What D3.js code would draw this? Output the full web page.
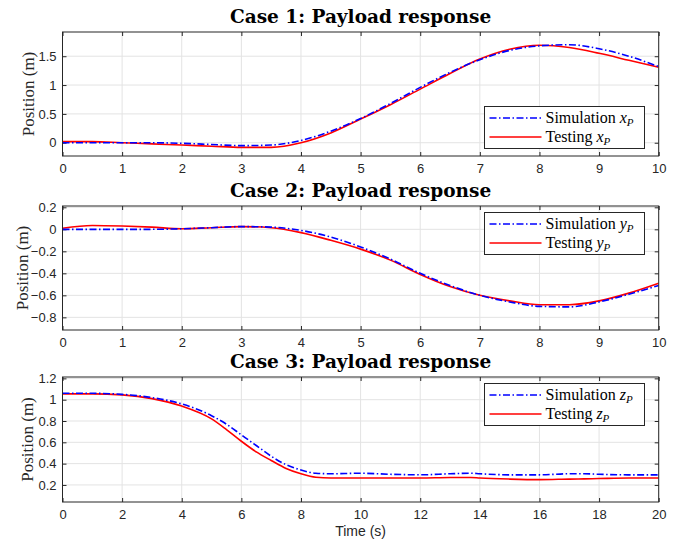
<!DOCTYPE html>
<html><head><meta charset="utf-8">
<script src="https://cdn.jsdelivr.net/npm/d3@7"></script>
<style>body{margin:0;background:#fff}svg{display:block}</style>
</head><body>
<script>
// ---- data ----
const titles = ["Case 1: Payload response", "Case 2: Payload response", "Case 3: Payload response"];
const axisVars = ["x", "y", "z"];
const t1 = [0,0.5,1,1.5,2,2.5,3,3.5,4,4.5,5,5.5,6,6.5,7,7.5,8,8.5,9,9.5,10];
const simX = [0,0,0,0,-0.01,-0.03,-0.05,-0.04,0.04,0.2,0.42,0.68,0.96,1.22,1.44,1.6,1.68,1.7,1.63,1.5,1.32];
const testX = [0.02,0.02,0,-0.02,-0.04,-0.06,-0.08,-0.08,0.0,0.17,0.41,0.66,0.93,1.2,1.45,1.62,1.69,1.65,1.55,1.43,1.31];
const simY = [0,0,0,0,0.005,0.015,0.025,0.02,-0.01,-0.07,-0.16,-0.27,-0.4,-0.51,-0.6,-0.66,-0.7,-0.705,-0.66,-0.59,-0.51];
const testY = [0.01,0.035,0.03,0.02,0.005,0.015,0.025,0.015,-0.03,-0.1,-0.18,-0.28,-0.41,-0.52,-0.6,-0.65,-0.685,-0.685,-0.65,-0.58,-0.49];
const t3 = [0,1,2,3,4,5,5.5,6,6.5,7,7.5,8,8.5,9,10,11,12,13,13.7,14,15,16,17,17.5,18,19,20];
const simZ = [1.06,1.06,1.05,1.02,0.96,0.85,0.77,0.67,0.57,0.47,0.39,0.34,0.31,0.305,0.31,0.3,0.295,0.305,0.31,0.305,0.295,0.295,0.305,0.305,0.3,0.295,0.295];
const testZ = [1.055,1.055,1.045,1.01,0.94,0.82,0.72,0.61,0.51,0.43,0.355,0.305,0.272,0.265,0.265,0.265,0.265,0.27,0.27,0.265,0.255,0.25,0.255,0.257,0.26,0.265,0.265];
const xTicks1 = [0,1,2,3,4,5,6,7,8,9,10];
const xTicks3 = [0,2,4,6,8,10,12,14,16,18,20];
const yTicks1 = [0,0.5,1,1.5];
const yTicks2 = [0.2,0,-0.2,-0.4,-0.6,-0.8];
const yTicks3 = [0.2,0.4,0.6,0.8,1,1.2];

const panels = [
  {t:t1, sim:simX, test:testX, xd:[0,10], yd:[-0.23,1.92], xt:xTicks1, yt:yTicks1, top:32, bot:156, lab:28},
  {t:t1, sim:simY, test:testY, xd:[0,10], yd:[-0.915,0.212], xt:xTicks1, yt:yTicks2, top:206, bot:330, lab:22},
  {t:t3, sim:simZ, test:testZ, xd:[0,20], yd:[0.04,1.213], xt:xTicks3, yt:yTicks3, top:377, bot:502, lab:27}
];

const W = 683, H = 541, L = 62.5, R = 658.7;
const svg = d3.select("body").append("svg").attr("width", W).attr("height", H);
const ink = "#262626";

panels.forEach((p, i) => {
  const x = d3.scaleLinear().domain(p.xd).range([L, R]);
  const y = d3.scaleLinear().domain(p.yd).range([p.bot, p.top]);
  const g = svg.append("g");
  // grid
  g.selectAll(".gx").data(p.xt).join("line")
    .attr("x1", d => x(d)).attr("x2", d => x(d)).attr("y1", p.top).attr("y2", p.bot)
    .attr("stroke", "#e3e3e3").attr("stroke-width", 1);
  g.selectAll(".gy").data(p.yt).join("line")
    .attr("y1", d => y(d)).attr("y2", d => y(d)).attr("x1", L).attr("x2", R)
    .attr("stroke", "#e3e3e3").attr("stroke-width", 1);

  // axes
  const fmt = d => (d === 0 ? "0" : d3.format("")(+d.toFixed(2)));
  const ax = (gen, tr) => {
    const a = g.append("g").attr("transform", tr).call(gen);
    a.select(".domain").remove();
    a.selectAll("line").attr("stroke", ink);
    a.selectAll("text").attr("fill", ink).style("font-family", "'Liberation Sans', Arial, sans-serif").style("font-size", "13px");
    return a;
  };
  ax(d3.axisBottom(x).tickValues(p.xt).tickSize(-4).tickPadding(8).tickFormat(fmt), `translate(0,${p.bot})`);
  ax(d3.axisTop(x).tickValues(p.xt).tickSize(-4).tickFormat(""), `translate(0,${p.top})`);
  ax(d3.axisLeft(y).tickValues(p.yt).tickSize(-4).tickPadding(6).tickFormat(fmt), `translate(${L},0)`);
  ax(d3.axisRight(y).tickValues(p.yt).tickSize(-4).tickFormat(""), `translate(${R},0)`);

  // lines
  const clipId = "clip" + i;
  svg.append("clipPath").attr("id", clipId).append("rect")
    .attr("x", L).attr("y", p.top).attr("width", R - L).attr("height", p.bot - p.top);
  const line = (vals) => d3.line().x((d, k) => x(p.t[k])).y(d => y(d)).curve(d3.curveMonotoneX)(vals);
  g.append("path").attr("d", line(p.test)).attr("fill", "none").attr("stroke", "#ff0000")
    .attr("stroke-width", 1.6).attr("clip-path", `url(#${clipId})`);
  g.append("path").attr("d", line(p.sim)).attr("fill", "none").attr("stroke", "#0000ff")
    .attr("stroke-width", 1.6).attr("stroke-dasharray", "7,2.5,1.5,2.5").attr("clip-path", `url(#${clipId})`);

  // box
  g.append("rect").attr("x", L).attr("y", p.top).attr("width", R - L).attr("height", p.bot - p.top)
    .attr("fill", "none").attr("stroke", ink).attr("stroke-width", 1);

  // title
  svg.append("text").attr("x", (L + R) / 2).attr("y", p.top - 9).attr("text-anchor", "middle")
    .style("font-family", "'DejaVu Serif', 'Liberation Serif', serif").style("font-weight", "bold")
    .style("font-size", "18.5px").attr("fill", "#000").text(titles[i]);

  // y label
  svg.append("text").attr("transform", `translate(${p.lab + 6},${(p.top + p.bot) / 2}) rotate(-90)`)
    .attr("text-anchor", "middle")
    .style("font-family", "'Liberation Serif', 'DejaVu Serif', serif").style("font-size", "17px")
    .attr("fill", ink).text("Position (m)");

  // legend
  const lx = 484.5, ly = p.top + 74.5 - (i === 0 ? 0 : 68);
  const lg = svg.append("g").attr("transform", `translate(${lx},${ly})`);
  lg.append("rect").attr("width", 160).attr("height", 42).attr("fill", "#fff").attr("stroke", ink).attr("stroke-width", 1);
  const rows = [
    {name:"Simulation ", color:"#0000ff", dash:"7,2.5,1.5,2.5"},
    {name:"Testing ", color:"#ff0000", dash:null}
  ];
  rows.forEach((r, k) => {
    const yy = 11.5 + k * 19;
    lg.append("line").attr("x1", 5).attr("x2", 57).attr("y1", yy).attr("y2", yy)
      .attr("stroke", r.color).attr("stroke-width", 1.6).attr("stroke-dasharray", r.dash);
    const tx = lg.append("text").attr("x", 61).attr("y", yy + 5)
      .style("font-family", "'Liberation Serif', 'DejaVu Serif', serif").style("font-size", "16px").attr("fill", "#000");
    tx.append("tspan").text(r.name);
    tx.append("tspan").style("font-style", "italic").text(axisVars[i]);
    tx.append("tspan").style("font-style", "italic").style("font-size", "11px").attr("dy", 3).text("P");
  });
});

svg.append("text").attr("x", (L + R) / 2).attr("y", 536).attr("text-anchor", "middle")
  .style("font-family", "'Liberation Sans', Arial, sans-serif").style("font-size", "14px").attr("fill", ink).text("Time (s)");
</script>
</body></html>
